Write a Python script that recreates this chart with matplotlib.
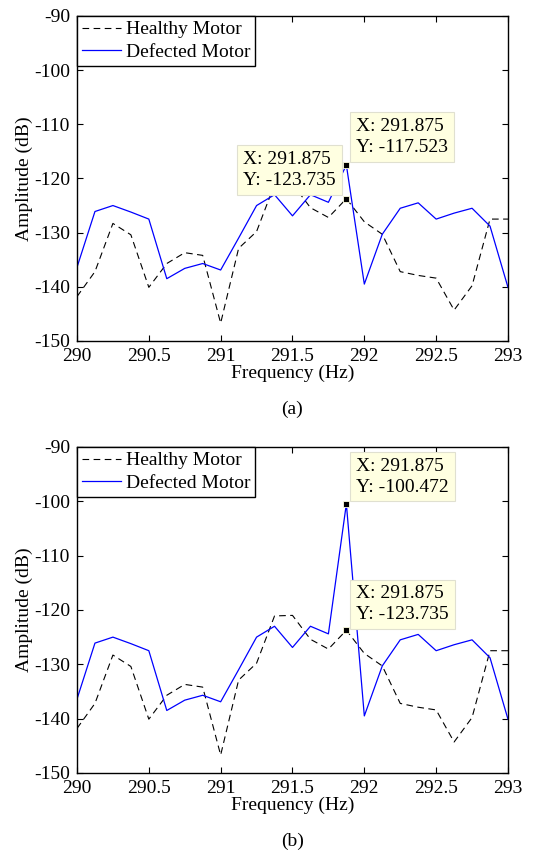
import numpy as np
import matplotlib
matplotlib.use("Agg")
import matplotlib.pyplot as plt

plt.rcParams['font.family'] = ['Liberation Serif', 'DejaVu Serif']
plt.rcParams['axes.unicode_minus'] = False

# frequency bins (0.125 Hz spacing)
freq = 290 + 0.125 * np.arange(25)

healthy = [-141.8, -137.2, -128.3, -130.4, -140.1, -135.7, -133.7, -134.2, -146.7,
           -132.9, -129.8, -121.1, -121.0, -125.4, -127.2, -123.735, -128.0, -130.3,
           -137.2, -137.9, -138.4, -144.3, -139.8, -127.5, -127.5]

defected_a = [-136.4, -126.1, -125.0, -126.2, -127.5, -138.5, -136.6, -135.7, -136.9,
              -131.0, -125.0, -123.0, -126.9, -123.0, -124.4, -117.523, -139.5, -130.3,
              -125.5, -124.5, -127.5, -126.4, -125.5, -128.8, -140.1]

defected_b = list(defected_a)
defected_b[15] = -100.472

xticks = [290, 290.5, 291, 291.5, 292, 292.5, 293]
xticklabels = ['290', '290.5', '291', '291.5', '292', '292.5', '293']
yticks = [-150, -140, -130, -120, -110, -100, -90]

# (value, offset x pt, offset y pt, ha) for each data tip
tips_a = [(healthy[15], -7.5, 7, 'right'),
          (defected_a[15], 7, 6.5, 'left')]
tips_b = [(defected_b[15], 7, 6, 'left'),
          (healthy[15], 7, 5, 'left')]

FS = 14

fig = plt.figure(figsize=(5.43, 8.58), dpi=100)
ax1 = fig.add_axes([0.1418, 0.6026, 0.7937, 0.3788])
ax2 = fig.add_axes([0.1418, 0.0991, 0.7937, 0.3800])


def draw(ax, defected, tips, label):
    ax.plot(freq, healthy, color='black', lw=0.8, ls=(0, (6, 4)), label='Healthy Motor')
    ax.plot(freq, defected, color='blue', lw=0.9, label='Defected Motor')
    ax.set_xlim(290, 293)
    ax.set_ylim(-150, -90)
    ax.set_xticks(xticks)
    ax.set_xticklabels(xticklabels)
    ax.set_yticks(yticks)
    ax.tick_params(direction='in', top=True, right=True, labelsize=FS, length=4,
                   width=0.8)
    ax.tick_params(axis='x', pad=5)
    ax.tick_params(axis='y', pad=5)
    for s in ax.spines.values():
        s.set_linewidth(1.0)
    ax.set_xlabel('Frequency (Hz)', fontsize=FS, labelpad=0)
    ax.set_ylabel('Amplitude (dB)', fontsize=FS, labelpad=1)
    leg = ax.legend(loc='upper left', fontsize=FS, handlelength=2.0, handletextpad=0.25,
                    borderaxespad=0, borderpad=0.25, labelspacing=0.25,
                    fancybox=False, framealpha=1)
    leg.get_frame().set_edgecolor('black')
    leg.get_frame().set_linewidth(1.0)
    for val, dx, dy, ha in tips:
        ax.plot([291.875], [val], 's', color='black', ms=5, mec='#ffffe1', mew=0.6)
        ax.annotate('X: 291.875\nY: %.3f' % val, xy=(291.875, val),
                    xytext=(dx, dy), textcoords='offset points', ha=ha, va='bottom',
                    multialignment='left', fontsize=FS, linespacing=1.3,
                    bbox=dict(boxstyle='square,pad=0.3', fc='#ffffe1', ec='#e0e0d0', lw=0.8))
    ax.text(0.5, -0.21, label, transform=ax.transAxes, ha='center', va='center', fontsize=FS)


draw(ax1, defected_a, tips_a, '(a)')
draw(ax2, defected_b, tips_b, '(b)')

fig.savefig('out.png', dpi=100)
